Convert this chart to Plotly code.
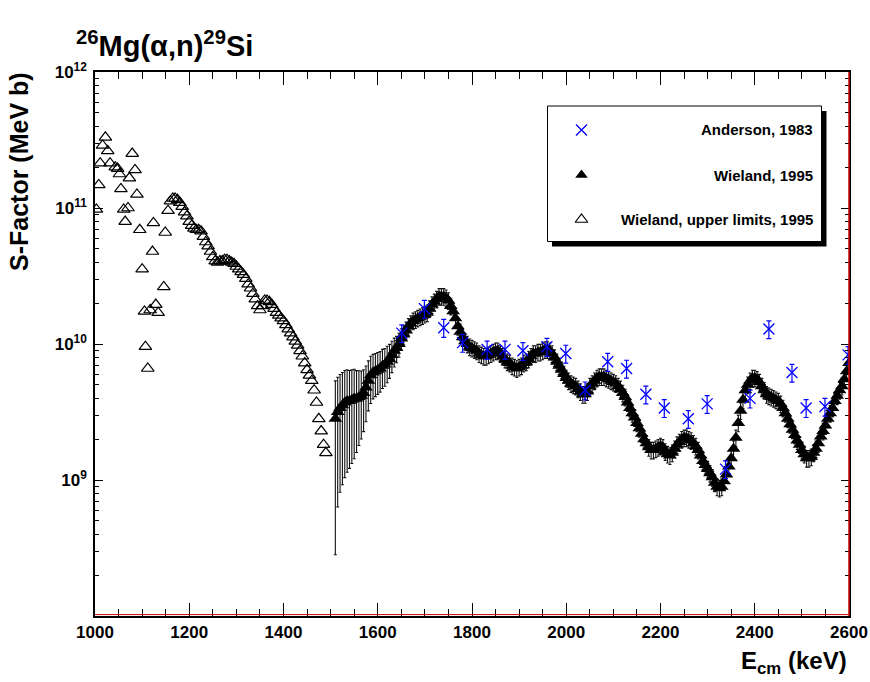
import numpy as np
import plotly.graph_objects as go

# ---------------------------------------------------------------------------
# 26Mg(alpha,n)29Si astrophysical S-factor
# energies in keV (centre of mass), S-factors stored as log10(S / MeV b)
# ---------------------------------------------------------------------------

# Wieland 1995, upper limits: isolated points at low energy
UL_SCATTER_E = [1003, 1008, 1011, 1016, 1022, 1027, 1032, 1043, 1048, 1052,
                1055, 1061, 1064, 1070, 1073, 1079, 1085, 1089, 1095, 1100,
                1105, 1107, 1112, 1117, 1122, 1124, 1129, 1134, 1146, 1149]
UL_SCATTER_LOGS = [10.99, 11.17, 11.33, 11.46, 11.52, 11.42, 11.33, 11.30, 11.29, 11.25,
                   11.14, 10.99, 10.90, 11.00, 11.22, 11.40, 11.28, 11.10, 10.84, 10.55,
                   10.24, 9.98, 9.82, 10.25, 10.68, 10.89, 10.29, 10.23, 10.42, 10.82]

# Wieland 1995, upper limits: continuous scan
UL_CURVE_E = list(range(1155, 1491, 5))
UL_CURVE_LOGS = [
    10.98, 11.05, 11.07, 11.07, 11.06, 11.04, 11.01, 10.97, 10.94, 10.90,
    10.87, 10.85, 10.84, 10.84, 10.83, 10.79, 10.75, 10.72, 10.68, 10.64,
    10.61, 10.60, 10.61, 10.61, 10.62, 10.62, 10.61, 10.60, 10.59, 10.57,
    10.55, 10.53, 10.51, 10.48, 10.44, 10.41, 10.37, 10.33, 10.28, 10.25,
    10.28, 10.32, 10.32, 10.31, 10.29, 10.26, 10.23, 10.21, 10.19, 10.17,
    10.14, 10.11, 10.08, 10.05, 10.02, 9.99, 9.95, 9.91, 9.86, 9.81,
    9.77, 9.73, 9.66, 9.57, 9.45, 9.36, 9.26, 9.20,
]

# Wieland 1995, measured S-factor
WIELAND_E = list(range(1510, 2601, 5))
WIELAND_LOGS = [
    9.45, 9.50, 9.53, 9.55, 9.57, 9.58, 9.58, 9.59, 9.60, 9.60,
    9.61, 9.62, 9.64, 9.68, 9.73, 9.77, 9.79, 9.80, 9.81, 9.82,
    9.84, 9.85, 9.87, 9.89, 9.92, 9.95, 9.97, 10.00, 10.04, 10.07,
    10.10, 10.13, 10.15, 10.17, 10.18, 10.19, 10.20, 10.21, 10.22, 10.23,
    10.26, 10.29, 10.31, 10.33, 10.35, 10.35, 10.35, 10.34, 10.32, 10.28,
    10.24, 10.19, 10.13, 10.09, 10.05, 10.02, 10.00, 9.98, 9.97, 9.96,
    9.95, 9.93, 9.92, 9.91, 9.91, 9.92, 9.93, 9.94, 9.95, 9.95,
    9.93, 9.91, 9.89, 9.87, 9.86, 9.84, 9.83, 9.82, 9.83, 9.84,
    9.86, 9.87, 9.89, 9.91, 9.93, 9.93, 9.94, 9.94, 9.95, 9.96,
    9.96, 9.95, 9.93, 9.90, 9.87, 9.84, 9.81, 9.78, 9.75, 9.73,
    9.71, 9.70, 9.69, 9.67, 9.65, 9.63, 9.63, 9.65, 9.69, 9.71,
    9.73, 9.75, 9.76, 9.76, 9.76, 9.75, 9.74, 9.73, 9.72, 9.71,
    9.69, 9.67, 9.64, 9.61, 9.57, 9.53, 9.49, 9.46, 9.42, 9.38,
    9.34, 9.30, 9.27, 9.24, 9.22, 9.22, 9.23, 9.24, 9.25, 9.24,
    9.21, 9.19, 9.18, 9.20, 9.23, 9.26, 9.28, 9.30, 9.31, 9.31,
    9.30, 9.29, 9.27, 9.25, 9.22, 9.18, 9.14, 9.11, 9.08, 9.05,
    9.02, 8.98, 8.95, 8.94, 8.95, 8.99, 9.04, 9.10, 9.16, 9.23,
    9.31, 9.42, 9.51, 9.59, 9.66, 9.70, 9.73, 9.75, 9.75, 9.74,
    9.72, 9.69, 9.66, 9.63, 9.62, 9.61, 9.60, 9.59, 9.58, 9.56,
    9.53, 9.49, 9.45, 9.41, 9.37, 9.33, 9.29, 9.26, 9.22, 9.19,
    9.16, 9.16, 9.17, 9.20, 9.23, 9.27, 9.32, 9.36, 9.40, 9.45,
    9.49, 9.53, 9.58, 9.62, 9.66, 9.69, 9.74, 9.80, 9.86,
]
# relative uncertainties: large near threshold, ~14 % above 1670 keV
WIELAND_REL_ERR = [
    0.90, 0.80, 0.76, 0.74, 0.72, 0.70, 0.68, 0.66, 0.64, 0.60,
    0.56, 0.52, 0.48, 0.44, 0.40, 0.38, 0.36, 0.35, 0.34, 0.33,
    0.32, 0.31, 0.30, 0.28, 0.26, 0.24, 0.22, 0.20, 0.18, 0.16,
    0.15, 0.14, 0.14,
] + [0.14] * 186

# Anderson 1983
ANDERSON_E = [1651, 1699, 1740, 1780, 1832, 1870, 1908, 1959, 1999, 2040,
              2088, 2128, 2169, 2208, 2259, 2299, 2338, 2390, 2430, 2479,
              2509, 2549, 2598]
ANDERSON_LOGS = [10.08, 10.26, 10.12, 10.01, 9.96, 9.96, 9.95, 9.98, 9.93, 9.66,
                 9.87, 9.82, 9.63, 9.53, 9.45, 9.56, 9.08, 9.60, 10.11, 9.79,
                 9.53, 9.54, 9.92]
ANDERSON_REL_ERR = 0.15

Y_TICKS = [1e9, 1e10, 1e11, 1e12]
Y_TICK_TEXT = ["10<sup>9</sup>", "10<sup>10</sup>", "10<sup>11</sup>", "10<sup>12</sup>"]
Y_MINOR = [k * 10.0 ** d for d in range(8, 12) for k in range(2, 10)]

LEGEND_LABELS = ["Anderson, 1983", "Wieland, 1995", "Wieland, upper limits, 1995"]

# ---------------------------------------------------------------------------
FONT = "Liberation Sans, Arial, Helvetica, sans-serif"
BLUE = "#0000ff"

W, H = 870, 682
L, R, T, B = 95, 21, 72, 66
PW, PH = W - L - R, H - T - B


def px(x):
    return (x - L) / PW


def py(y):
    return (H - B - y) / PH


ul_e = UL_SCATTER_E + UL_CURVE_E
ul_s = [10.0 ** v for v in UL_SCATTER_LOGS + UL_CURVE_LOGS]
w_s = np.power(10.0, WIELAND_LOGS)
w_err = w_s * np.array(WIELAND_REL_ERR)
a_s = np.power(10.0, ANDERSON_LOGS)
a_err = a_s * ANDERSON_REL_ERR

fig = go.Figure()

fig.add_trace(go.Scatter(
    x=ul_e, y=ul_s, mode="markers", showlegend=False,
    marker=dict(symbol="triangle-up-open", size=11, color="black",
                line=dict(width=1.2, color="black")),
))

fig.add_trace(go.Scatter(
    x=WIELAND_E, y=w_s, mode="markers", showlegend=False,
    marker=dict(symbol="triangle-up", size=12, color="black",
                line=dict(width=0)),
    error_y=dict(type="data", array=w_err, symmetric=True,
                 color="#111111", thickness=1.1, width=1.5),
))

fig.add_trace(go.Scatter(
    x=ANDERSON_E, y=a_s, mode="markers", showlegend=False,
    marker=dict(symbol="x-thin", size=11, color=BLUE,
                line=dict(width=1.3, color=BLUE)),
    error_y=dict(type="data", array=a_err, symmetric=True,
                 color=BLUE, thickness=1.2, width=2.5),
))

# legend key markers, drawn on a hidden unit overlay
key_x = px(581.5)
key_y = [py(130), py(175), py(219.5)]
key_styles = [
    dict(symbol="x-thin", size=11, color=BLUE, line=dict(width=1.3, color=BLUE)),
    dict(symbol="triangle-up", size=11, color="black", line=dict(width=0)),
    dict(symbol="triangle-up-open", size=11, color="black", line=dict(width=1.2, color="black")),
]
for yk, st in zip(key_y, key_styles):
    fig.add_trace(go.Scatter(x=[key_x], y=[yk], mode="markers", marker=st,
                             showlegend=False, xaxis="x2", yaxis="y2",
                             hoverinfo="skip"))

tick_font = dict(family=FONT, size=17, color="black", weight="bold")

fig.update_layout(
    width=W, height=H,
    margin=dict(l=L, r=R, t=T, b=B, autoexpand=False),
    paper_bgcolor="white", plot_bgcolor="white",
    showlegend=False,
    xaxis=dict(
        range=[1000, 2600], tick0=1000, dtick=200, automargin=False,
        ticks="inside", ticklen=13, tickwidth=1, tickcolor="black",
        minor=dict(dtick=50, ticks="inside", ticklen=7, tickwidth=1, tickcolor="black"),
        showline=True, linecolor="black", linewidth=1.5, mirror="ticks",
        showgrid=False, zeroline=False, tickfont=tick_font,
    ),
    yaxis=dict(
        type="log", range=[8.0, 12.0], automargin=False,
        tickmode="array", tickvals=Y_TICKS, ticktext=Y_TICK_TEXT,
        ticks="inside", ticklen=8, tickwidth=1, tickcolor="black",
        ticklabelstandoff=3,
        minor=dict(tickmode="array", tickvals=Y_MINOR, ticks="inside",
                   ticklen=4, tickwidth=1, tickcolor="black"),
        showline=True, linecolor="black", linewidth=1.5, mirror="ticks",
        showgrid=False, zeroline=False, tickfont=tick_font,
    ),
    xaxis2=dict(range=[0, 1], overlaying="x", visible=False, fixedrange=True),
    yaxis2=dict(range=[0, 1], overlaying="y", visible=False, fixedrange=True),
)

shapes = [
    # legend shadow and box
    dict(type="rect", xref="paper", yref="paper", layer="below",
         x0=px(552), x1=px(826.5), y0=py(246.5), y1=py(111),
         fillcolor="black", line=dict(width=0)),
    dict(type="rect", xref="paper", yref="paper", layer="below",
         x0=px(547.5), x1=px(821.5), y0=py(241.5), y1=py(106),
         fillcolor="white", line=dict(color="black", width=1)),
    # red lines along the lower and right frame edges
    dict(type="line", xref="paper", yref="paper", layer="above",
         x0=0, x1=1, y0=py(614.6), y1=py(614.6), line=dict(color="#cc0000", width=1)),
    dict(type="line", xref="paper", yref="paper", layer="above",
         x0=1, x1=1, y0=0, y1=1, line=dict(color="#cc0000", width=1.5)),
]

annotations = [
    dict(text="<sup>26</sup>Mg(α,n)<sup>29</sup>Si", xref="paper", yref="paper",
         x=px(74), y=py(44), xanchor="left", yanchor="middle", showarrow=False,
         font=dict(family=FONT, size=29, color="black", weight="bold")),
    dict(text="S-Factor (MeV b)", xref="paper", yref="paper", textangle=-90,
         x=px(19), y=py(172), xanchor="center", yanchor="middle", showarrow=False,
         font=dict(family=FONT, size=25, color="black", weight="bold")),
    dict(text="E<sub>cm</sub> (keV)", xref="paper", yref="paper",
         x=1.0, y=py(662), xanchor="right", yanchor="middle", showarrow=False,
         font=dict(family=FONT, size=24, color="black", weight="bold")),
]
for yk, label in zip(key_y, LEGEND_LABELS):
    annotations.append(dict(text=label, xref="paper", yref="paper",
                            x=px(814.5), y=yk, xanchor="right", yanchor="middle",
                            showarrow=False,
                            font=dict(family=FONT, size=15, color="black", weight="bold")))

fig.update_layout(shapes=shapes, annotations=annotations)

fig.write_html("out.html")
